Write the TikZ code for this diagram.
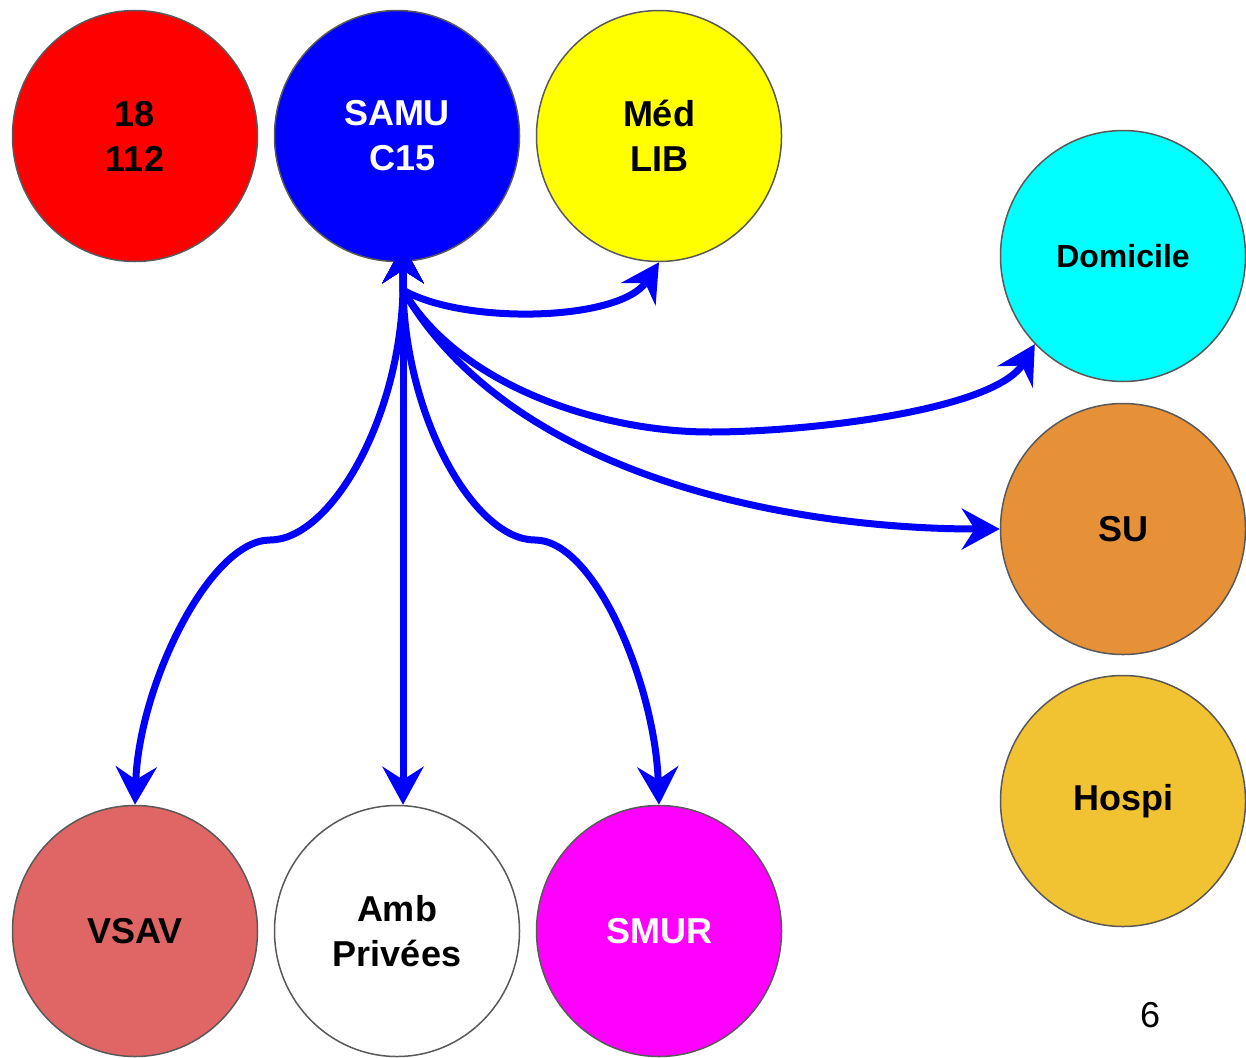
\documentclass[tikz,border=0pt]{standalone}
\usepackage{fontspec}
\setmainfont{Liberation Sans}
\usetikzlibrary{arrows.meta,shapes.geometric}

\definecolor{fillred}{HTML}{FF0000}
\definecolor{fillblue}{HTML}{0000FF}
\definecolor{fillyellow}{HTML}{FFFF00}
\definecolor{fillcyan}{HTML}{00FFFF}
\definecolor{fillmagenta}{HTML}{FF00FF}
\definecolor{suorange}{HTML}{E69138}
\definecolor{hospiyellow}{HTML}{F1C232}
\definecolor{vsavred}{HTML}{E06666}
\definecolor{rim}{HTML}{595959}

\begin{document}
\begin{tikzpicture}[x=1pt,y=1pt,
  unit/.style={ellipse, draw=rim, line width=1.5pt, minimum width=245pt,
    minimum height=251pt, inner sep=0pt, align=center,
    font=\bfseries\fontsize{36}{45}\selectfont},
  link/.style={draw=fillblue, line width=7pt, line join=round,
    {Stealth[length=38pt,width=41pt,inset=13pt]}-{Stealth[length=38pt,width=41pt,inset=13pt]}},
]
\useasboundingbox (0,0) rectangle (1246,-1057);

% top row
\node[unit, fill=fillred] (n18) at (135,-136) {18\\112};
\node[unit, fill=fillblue, text=white] (samu) at (397,-136) {SAMU\\\kern12pt C15};
\node[unit, fill=fillyellow] (med) at (659,-136) {Méd\\LIB};

% right column
\node[unit, fill=fillcyan, font=\bfseries\fontsize{32}{40}\selectfont] (dom) at (1123,-256) {Domicile};
\node[unit, fill=suorange] (su) at (1123,-529) {SU};
\node[unit, fill=hospiyellow] (hospi) at (1123,-801) {Hospi};

% bottom row
\node[unit, fill=vsavred] (vsav) at (135,-931) {VSAV};
\node[unit, fill=white] (amb) at (397,-931) {Amb\\Privées};
\node[unit, fill=fillmagenta, text=white] (smur) at (659,-931) {SMUR};

\node[font=\fontsize{36}{43}\selectfont] (pagenum) at (1150,-1015) {6};

% connectors leave SAMU from a common hub
\coordinate (tail) at (403,-245);
\coordinate (hub) at (403,-290);
\coordinate (dlow) at (710,-432);
\coordinate (lbend) at (270,-540);
\coordinate (rbend) at (535,-540);

\draw[link] (tail) -- (hub) to[out=-30,in=237,looseness=0.7] (med.south);
\draw[link] (tail) -- (hub) .. controls (458,-385) and (600,-432) .. (dlow)
  .. controls (810,-432) and (995,-410) .. (dom.225);
\draw[link] (tail) -- (hub) to[out=-60,in=180,looseness=0.85] (su.west);
\draw[link] (tail) -- (hub) .. controls +(-3,-130) and +(60,0) .. (lbend)
  .. controls +(-60,0) and +(4,120) .. (vsav.north);
\draw[link] (tail) -- (hub) -- (hub |- amb.north);
\draw[link] (tail) -- (hub) .. controls +(3,-130) and +(-60,0) .. (rbend)
  .. controls +(60,0) and +(-4,120) .. (smur.north);
\end{tikzpicture}
\end{document}
